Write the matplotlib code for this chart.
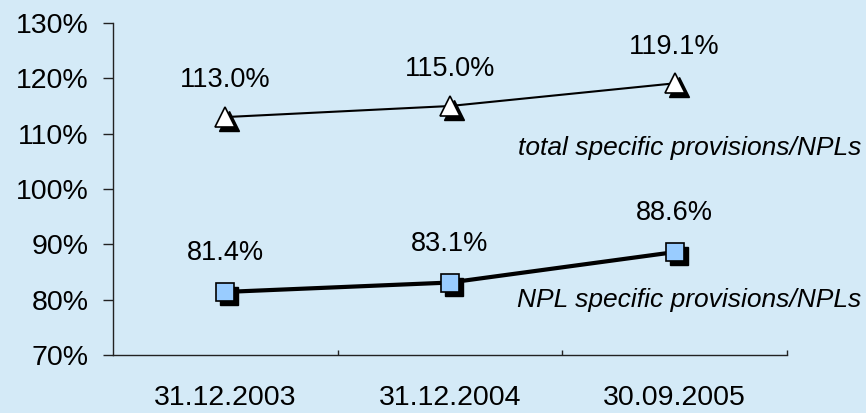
import matplotlib
matplotlib.use("Agg")
import matplotlib.pyplot as plt
import matplotlib.transforms as mtransforms

dates = ["31.12.2003", "31.12.2004", "30.09.2005"]
total_ratio = [113.0, 115.0, 119.1]
npl_ratio = [81.4, 83.1, 88.6]
y_ticks = [70, 80, 90, 100, 110, 120, 130]
y_tick_labels = ["70%", "80%", "90%", "100%", "110%", "120%", "130%"]

plt.rcParams["font.family"] = ["Liberation Sans", "DejaVu Sans"]

bg = "#D4EAF7"
fig = plt.figure(figsize=(8.66, 4.13), dpi=100, facecolor=bg)
ax = fig.add_axes([0.1305, 0.1404, 0.7783, 0.8039])
ax.set_facecolor(bg)

x = list(range(len(dates)))
shadow = mtransforms.ScaledTranslation(4 / 100, -4 / 100, fig.dpi_scale_trans)

# upper series: thin line, white triangles with drop shadow
ax.plot(x, total_ratio, color="black", lw=1.5, zorder=2)
ax.plot(x, total_ratio, ls="none", marker="^", ms=14, mfc="black", mec="black",
        transform=ax.transData + shadow, zorder=3)
ax.plot(x, total_ratio, ls="none", marker="^", ms=14, mfc="white", mec="black",
        mew=1.2, zorder=4)

# lower series: thick line, light-blue squares with drop shadow
ax.plot(x, npl_ratio, color="black", lw=3, zorder=2)
ax.plot(x, npl_ratio, ls="none", marker="s", ms=13, mfc="black", mec="black",
        transform=ax.transData + shadow, zorder=3)
ax.plot(x, npl_ratio, ls="none", marker="s", ms=13, mfc="#99CCFF", mec="black",
        mew=1.2, zorder=4)

for xi, v in zip(x, total_ratio):
    ax.annotate(f"{v:.1f}%", (xi, v), xytext=(0, 26.5), textcoords="offset points",
                ha="center", va="center", fontsize=19.5)
for xi, v in zip(x, npl_ratio):
    ax.annotate(f"{v:.1f}%", (xi, v), xytext=(0, 28), textcoords="offset points",
                ha="center", va="center", fontsize=19.5)

ax.text(2.83, 107.4, "total specific provisions/NPLs", style="italic",
        fontsize=19, ha="right", va="center", clip_on=False)
ax.text(2.83, 80.0, "NPL specific provisions/NPLs", style="italic",
        fontsize=19, ha="right", va="center", clip_on=False)

ax.set_xlim(-0.5, 2.5)
ax.set_ylim(70, 130)
ax.set_yticks(y_ticks)
ax.set_yticklabels(y_tick_labels, fontsize=20.5)
ax.tick_params(axis="y", direction="out", length=7.2, width=1, pad=10.5,
               color="#222222")

# major x ticks mark category boundaries, minor ticks carry the labels
ax.set_xticks([0.5, 1.5, 2.5])
ax.set_xticklabels([])
ax.tick_params(axis="x", which="major", direction="in", length=3.6, width=1,
               color="#222222")
ax.set_xticks(x, minor=True)
ax.set_xticklabels(dates, minor=True, fontsize=20.5)
ax.tick_params(axis="x", which="minor", length=0, pad=21.5)

for s in ["top", "right"]:
    ax.spines[s].set_visible(False)
for s in ["left", "bottom"]:
    ax.spines[s].set_color("#222222")
    ax.spines[s].set_linewidth(1)

fig.savefig("out.png", dpi=100, facecolor=bg)
